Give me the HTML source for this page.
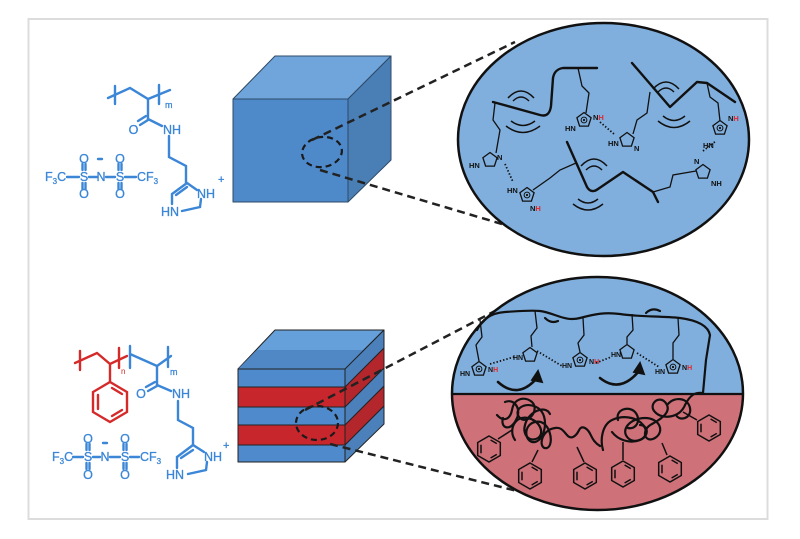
<!DOCTYPE html>
<html><head><meta charset="utf-8"><style>
html,body{margin:0;padding:0;background:#fff;}
svg{display:block;}
text{font-family:"Liberation Sans",sans-serif;}
</style></head><body>
<svg width="800" height="539" viewBox="0 0 800 539" xmlns="http://www.w3.org/2000/svg">
<defs>
 <g id="ring"><polygon points="0,-7.5 7.1,-2.3 4.4,6.1 -4.4,6.1 -7.1,-2.3" fill="none" stroke="#111" stroke-width="1.3"/></g>
 <g id="pos"><circle r="2.9" fill="none" stroke="#111" stroke-width="1"/><circle r="1.1" fill="#111"/></g>
 <g id="ph" fill="none" stroke="#111" stroke-width="1.5">
  <polygon points="0,-13 11.3,-6.5 11.3,6.5 0,13 -11.3,6.5 -11.3,-6.5"/>
  <line x1="1.6" y1="-9" x2="7.8" y2="-5.4"/>
  <line x1="7.8" y1="5.4" x2="1.6" y2="9"/>
  <line x1="-8" y1="4.3" x2="-8" y2="-4.3"/>
 </g>
 <clipPath id="cb"><ellipse cx="597.5" cy="393.5" rx="145.5" ry="116.5"/></clipPath>
</defs>

<rect x="28.5" y="19" width="739" height="500" fill="#fff" stroke="#dcdcdc" stroke-width="2"/>

<!-- ===== TOP LEFT CHEMISTRY ===== -->
<g stroke="#3b86d6" stroke-width="2.4" fill="none" stroke-linecap="round">
 <polyline points="108,98 130,88 148,99 170,90"/>
 <line x1="115" y1="86" x2="115" y2="104"/>
 <line x1="159" y1="85" x2="159" y2="104"/>
 <line x1="148" y1="99" x2="148" y2="119"/>
 <line x1="148" y1="120" x2="140" y2="125"/>
 <line x1="146" y1="116" x2="138" y2="121"/>
 <line x1="148" y1="119" x2="162" y2="126"/>
 <polyline points="169,136 169,157 186,166 186,183"/>
 <polyline points="172,204 172,194 187,183 197,190"/>
 <line x1="176" y1="195" x2="187" y2="187"/>
 <polyline points="201,199 200,207 182,211"/>
 <line x1="67" y1="177" x2="79" y2="177"/>
 <line x1="89" y1="177" x2="97" y2="177"/>
 <line x1="106" y1="177" x2="115" y2="177"/>
 <line x1="125" y1="177" x2="136" y2="177"/>
 <line x1="82.5" y1="164" x2="82.5" y2="170"/><line x1="85.5" y1="164" x2="85.5" y2="170"/>
 <line x1="82.5" y1="183" x2="82.5" y2="189"/><line x1="85.5" y1="183" x2="85.5" y2="189"/>
 <line x1="118.5" y1="164" x2="118.5" y2="170"/><line x1="121.5" y1="164" x2="121.5" y2="170"/>
 <line x1="118.5" y1="183" x2="118.5" y2="189"/><line x1="121.5" y1="183" x2="121.5" y2="189"/>
 <line x1="98" y1="159" x2="102" y2="159"/>
</g>
<g fill="#3b86d6" font-size="12.5" stroke="#3b86d6" stroke-width="0.3">
 <text x="165" y="108" font-size="9">m</text>
 <text x="133.5" y="134" text-anchor="middle">O</text>
 <text x="163" y="134">NH</text>
 <text x="197" y="198">NH</text>
 <text x="161" y="216">HN</text>
 <text x="218" y="183" font-size="11">+</text>
 <text x="45" y="181">F<tspan font-size="8" dy="3">3</tspan><tspan dy="-3">C</tspan></text>
 <text x="84" y="181" text-anchor="middle">S</text>
 <text x="101" y="181" text-anchor="middle">N</text>
 <text x="120" y="181" text-anchor="middle">S</text>
 <text x="137" y="181">CF<tspan font-size="8" dy="3">3</tspan></text>
 <text x="84" y="163" text-anchor="middle">O</text>
 <text x="84" y="198" text-anchor="middle">O</text>
 <text x="120" y="163" text-anchor="middle">O</text>
 <text x="120" y="198" text-anchor="middle">O</text>
</g>

<!-- ===== BOTTOM LEFT CHEMISTRY ===== -->
<g stroke="#d42a2a" stroke-width="2.4" fill="none" stroke-linecap="round">
 <polyline points="75,363 97,353 110,364 127,356"/>
 <line x1="80" y1="351" x2="80" y2="370"/>
 <line x1="119" y1="348" x2="119" y2="368"/>
 <line x1="110" y1="364" x2="110" y2="382"/>
 <polygon points="110,382 127,392 127,412 110,422 93,412 93,392"/>
 <line x1="112" y1="388" x2="122" y2="394"/>
 <line x1="122" y1="410" x2="112" y2="416"/>
 <line x1="98" y1="395" x2="98" y2="409"/>
</g>
<text x="121" y="374" font-size="8" fill="#d42a2a">n</text>
<g stroke="#3b86d6" stroke-width="2.4" fill="none" stroke-linecap="round">
 <polyline points="130,354 157,366 171,356"/>
 <line x1="130" y1="346" x2="130" y2="368"/>
 <line x1="168" y1="347" x2="168" y2="367"/>
 <line x1="157" y1="366" x2="157" y2="385"/>
 <line x1="157" y1="386" x2="148" y2="391"/>
 <line x1="155" y1="382" x2="146" y2="387"/>
 <line x1="157" y1="385" x2="171" y2="391"/>
 <polyline points="178,401 178,420 193,428 193,445"/>
 <polyline points="177,468 177,457 193,445 204,452"/>
 <line x1="181" y1="458" x2="193" y2="450"/>
 <polyline points="207,462 206,470 188,474"/>
 <line x1="73" y1="457" x2="83" y2="457"/>
 <line x1="93" y1="457" x2="100" y2="457"/>
 <line x1="110" y1="457" x2="120" y2="457"/>
 <line x1="130" y1="457" x2="139" y2="457"/>
 <line x1="86.5" y1="444" x2="86.5" y2="450"/><line x1="89.5" y1="444" x2="89.5" y2="450"/>
 <line x1="86.5" y1="463" x2="86.5" y2="469"/><line x1="89.5" y1="463" x2="89.5" y2="469"/>
 <line x1="123.5" y1="444" x2="123.5" y2="450"/><line x1="126.5" y1="444" x2="126.5" y2="450"/>
 <line x1="123.5" y1="463" x2="123.5" y2="469"/><line x1="126.5" y1="463" x2="126.5" y2="469"/>
 <line x1="103" y1="443" x2="107" y2="443"/>
</g>
<g fill="#3b86d6" font-size="12.5" stroke="#3b86d6" stroke-width="0.3">
 <text x="170" y="375" font-size="9">m</text>
 <text x="141" y="398" text-anchor="middle">O</text>
 <text x="172" y="398">NH</text>
 <text x="204" y="461">NH</text>
 <text x="166" y="479">HN</text>
 <text x="223" y="449" font-size="11">+</text>
 <text x="52" y="461">F<tspan font-size="8" dy="3">3</tspan><tspan dy="-3">C</tspan></text>
 <text x="88" y="461" text-anchor="middle">S</text>
 <text x="105" y="461" text-anchor="middle">N</text>
 <text x="125" y="461" text-anchor="middle">S</text>
 <text x="140" y="461">CF<tspan font-size="8" dy="3">3</tspan></text>
 <text x="88" y="443" text-anchor="middle">O</text>
 <text x="88" y="479" text-anchor="middle">O</text>
 <text x="125" y="443" text-anchor="middle">O</text>
 <text x="125" y="479" text-anchor="middle">O</text>
</g>

<!-- ===== TOP CUBE ===== -->
<g stroke="#2e4a68" stroke-width="1" stroke-linejoin="round">
 <polygon points="233,99 348,99 391,56 275,56" fill="#6fa5db"/>
 <polygon points="348,99 391,56 391,160 348,202" fill="#4a7fb6"/>
 <rect x="233" y="99" width="115" height="103" fill="#4e8aca"/>
</g>
<ellipse cx="322" cy="152" rx="20" ry="15" transform="rotate(-8 322 152)" fill="none" stroke="#1a1a1a" stroke-width="2.2" stroke-dasharray="6 4"/>

<!-- ===== BOTTOM CUBE ===== -->
<g stroke="#222" stroke-width="1" stroke-linejoin="round">
 <polygon points="238,369 345,369 384,330 275,330" fill="#66a0da"/>
 <polygon points="257,350 364,350 345,369 238,369" fill="#5088c6" stroke="none"/>
 <polygon points="345,369 384,330 384,424 345,462" fill="#4b80bb"/>
 <polygon points="345,387 384,348 384,368 345,407" fill="#b3262c"/>
 <polygon points="345,425 384,386 384,406 345,445" fill="#b3262c"/>
 <rect x="238" y="369" width="107" height="18" fill="#4f8bcc"/>
 <rect x="238" y="387" width="107" height="20" fill="#c8262d"/>
 <rect x="238" y="407" width="107" height="18" fill="#4f8bcc"/>
 <rect x="238" y="425" width="107" height="20" fill="#c8262d"/>
 <rect x="238" y="445" width="107" height="17" fill="#4f8bcc"/>
</g>
<ellipse cx="317" cy="423" rx="21" ry="17" fill="none" stroke="#1a1a1a" stroke-width="2.2" stroke-dasharray="6 4"/>

<!-- dashed connectors -->
<g stroke="#222" stroke-width="2.5" stroke-dasharray="8 5" fill="none">
 <line x1="312" y1="140" x2="515" y2="42"/>
 <line x1="320" y1="170" x2="502" y2="224"/>
 <line x1="305" y1="410" x2="495" y2="311"/>
 <line x1="330" y1="444" x2="517" y2="491"/>
</g>

<!-- ===== TOP ELLIPSE ===== -->
<ellipse cx="603.5" cy="139.5" rx="145.5" ry="116.5" fill="#80afdd"/>
<g stroke="#111" stroke-width="2.4" fill="none" stroke-linecap="round" stroke-linejoin="round">
 <path d="M493,102 L540,115 C547,117 550,113 551,106 L553,78 C554,72 557,69 563,68 L597,68"/>
 <polyline points="632,63 670,107 697,82 707,83 735,102"/>
 <path d="M567,142 L587,187 C590,192 594,192 598,189 L623,172 L653,192 L658,202"/>
</g>
<g stroke="#111" stroke-width="1.3" fill="none">
 <polyline points="578,68 582,86 589,93 586,113"/>
 <polyline points="495,103 493,120 500,130 496,153"/>
 <polyline points="650,92 647,113 637,120 633,134"/>
 <polyline points="707,83 710,97 718,103 720,121"/>
 <polyline points="653,192 670,187 673,175 696,171"/>
 <polyline points="576,163 560,170 550,178 533,190"/>
</g>
<g stroke="#111" stroke-width="1.5" fill="none">
 <path d="M513,101 Q521,93 529,101"/><path d="M508,98 Q521,84 534,98"/>
 <path d="M511,121 Q523,130 535,121"/><path d="M506,126 Q523,139 540,126"/>
 <path d="M658,92 Q666,84 674,92"/><path d="M653,89 Q666,75 679,89"/>
 <path d="M663,116 Q674,125 685,116"/><path d="M658,121 Q674,134 690,121"/>
 <path d="M586,170 Q594,162 602,170"/><path d="M581,166 Q594,152 607,166"/>
 <path d="M578,199 Q588,207 598,199"/><path d="M573,204 Q588,216 603,204"/>
</g>
<g stroke="#111" stroke-width="1.8" stroke-dasharray="1.4 2" fill="none">
 <line x1="600" y1="122" x2="614" y2="134"/>
 <line x1="505" y1="164" x2="513" y2="182"/>
 <line x1="703" y1="151" x2="716" y2="141"/>
</g>
<use href="#ring" x="584" y="120"/><use href="#pos" x="584" y="120"/>
<use href="#ring" x="627" y="140"/>
<use href="#ring" x="490" y="160"/>
<use href="#ring" x="527" y="195"/><use href="#pos" x="527" y="195"/>
<use href="#ring" x="720" y="128"/><use href="#pos" x="720" y="128"/>
<use href="#ring" x="703" y="172"/>
<g font-size="7.5" fill="#111" font-weight="bold">
 <text x="565" y="131">HN</text><text x="593" y="120">N<tspan fill="#e0282e">H</tspan></text>
 <text x="608" y="146">HN</text><text x="634" y="151">N</text>
 <text x="469" y="168">HN</text><text x="497" y="160">N</text>
 <text x="507" y="193">HN</text><text x="530" y="211">N<tspan fill="#e0282e">H</tspan></text>
 <text x="703" y="148">HN</text><text x="728" y="121">N<tspan fill="#e0282e">H</tspan></text>
 <text x="694" y="164">N</text><text x="711" y="186">NH</text>
</g>
<ellipse cx="603.5" cy="139.5" rx="145.5" ry="116.5" fill="none" stroke="#111" stroke-width="2.5"/>

<!-- ===== BOTTOM ELLIPSE ===== -->
<g clip-path="url(#cb)">
 <rect x="450" y="275" width="300" height="119" fill="#80afdd"/>
 <rect x="450" y="394" width="300" height="120" fill="#cf7179"/>
</g>
<line x1="452" y1="394" x2="743" y2="394" stroke="#111" stroke-width="2.2"/>
<g stroke="#111" stroke-width="2.2" fill="none" stroke-linecap="round" stroke-linejoin="round">
 <path d="M477,330 C482,320 490,313 505,312 C520,311 530,310 540,311 C555,313 565,322 580,318 C595,314 605,312 620,314 C640,317 660,316 680,318 C695,320 708,325 710,335 L706,360 L703,393"/>
 <path d="M545,318 Q551,324 558,321"/>
 <path d="M646,313 Q652,307 660,311"/>
 <path d="M498,382 Q518,400 537,378" stroke-width="2.6"/>
 <path d="M600,378 Q620,394 639,371" stroke-width="2.6"/>
 <!-- coils -->
 <path d="M497,415 C503,422 510,420 512,410 C514,398 525,396 532,402 C540,410 528,425 520,418 C512,410 525,400 538,408 C550,416 545,440 535,442 C525,444 522,425 535,422 C550,418 555,445 547,448 C538,450 540,430 555,428 C565,426 566,440 573,437 C580,434 578,425 585,428 C592,432 590,440 600,446"/>
 <path d="M515,440 C508,430 515,415 528,418 C540,421 545,433 538,438 C530,443 522,435 525,425 C528,412 545,404 550,414"/>
 <path d="M505,402 C515,398 522,410 516,420 C510,432 500,428 503,418"/>
 <path d="M603,450 C600,440 602,425 612,420 C625,414 640,418 645,428 C650,438 635,445 628,438 C620,430 630,418 645,418 C660,418 665,432 655,438 C645,444 640,430 652,424 C665,417 672,410 665,402 C658,395 648,405 655,412 C662,420 680,418 685,405 C690,395 695,392 703,393"/>
 <path d="M612,432 C618,440 630,444 640,440 C650,436 648,425 640,425"/>
 <path d="M618,420 C615,410 628,405 635,412 C642,420 636,430 628,428"/>
 <path d="M668,404 C675,396 688,398 690,408 C692,418 680,422 676,415"/>
</g>
<g stroke="#111" stroke-width="1.8" fill="#111">
 <polygon points="538,371 542,382 532,380"/>
 <polygon points="640,363 644,374 634,372"/>
</g>
<g stroke="#111" stroke-width="1.3" fill="none">
 <polyline points="480,320 482,337 476,345 479,361"/>
 <polyline points="535,311 537,328 531,336 532,347"/>
 <polyline points="583,318 584,335 578,343 580,352"/>
 <polyline points="632,314 633,330 627,337 627,344"/>
 <polyline points="678,318 679,335 673,343 673,359"/>
 <line x1="512" y1="430" x2="498" y2="439" stroke-width="1.5"/>
 <line x1="538" y1="450" x2="532" y2="462" stroke-width="1.5"/>
 <line x1="577" y1="447" x2="584" y2="462" stroke-width="1.5"/>
 <line x1="623" y1="442" x2="623" y2="460" stroke-width="1.5"/>
 <line x1="662" y1="443" x2="667" y2="455" stroke-width="1.5"/>
 <line x1="683" y1="412" x2="697" y2="420" stroke-width="1.5"/>
</g>
<g stroke="#111" stroke-width="1.8" stroke-dasharray="1.4 2" fill="none">
 <line x1="490" y1="364" x2="514" y2="357"/>
 <line x1="537" y1="351" x2="562" y2="366"/>
 <line x1="596" y1="363" x2="611" y2="357"/>
 <line x1="637" y1="353" x2="659" y2="367"/>
</g>
<use href="#ring" x="479" y="369"/><use href="#pos" x="479" y="369"/>
<use href="#ring" x="530" y="355"/>
<use href="#ring" x="580" y="360"/><use href="#pos" x="580" y="360"/>
<use href="#ring" x="627" y="352"/>
<use href="#ring" x="673" y="367"/><use href="#pos" x="673" y="367"/>
<g font-size="7" fill="#111" font-weight="bold">
 <text x="460" y="376">HN</text><text x="488" y="372">N<tspan fill="#e0282e">H</tspan></text>
 <text x="513" y="360">HN</text>
 <text x="562" y="368">HN</text><text x="589" y="364">N<tspan fill="#e0282e">H</tspan></text>
 <text x="611" y="357">HN</text>
 <text x="655" y="374">HN</text><text x="682" y="370">N<tspan fill="#e0282e">H</tspan></text>
</g>
<use href="#ph" x="489" y="449"/>
<use href="#ph" x="530" y="476"/>
<use href="#ph" x="585" y="476"/>
<use href="#ph" x="623" y="474"/>
<use href="#ph" x="670" y="469"/>
<use href="#ph" x="709" y="428"/>
<ellipse cx="597.5" cy="393.5" rx="145.5" ry="116.5" fill="none" stroke="#111" stroke-width="2.5"/>
</svg>
</body></html>
